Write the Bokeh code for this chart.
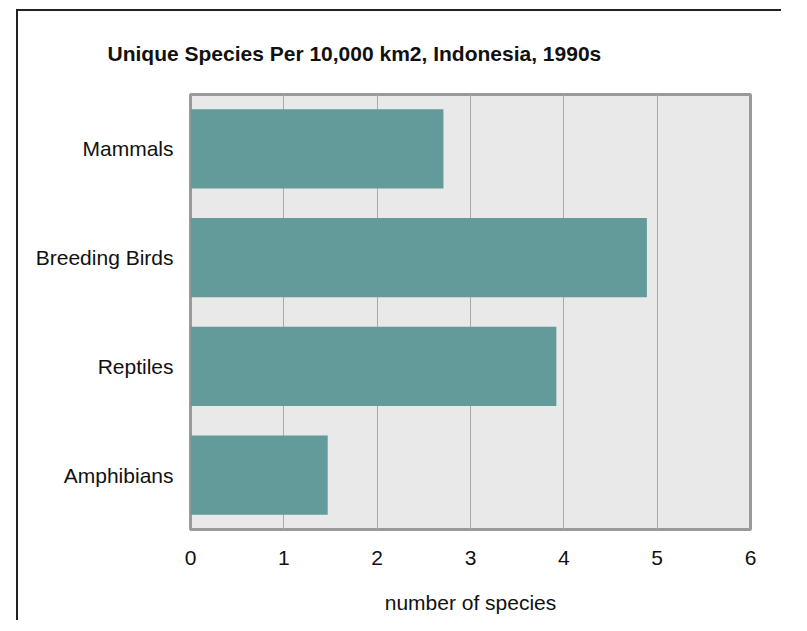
from bokeh.plotting import figure
from bokeh.models import FactorRange, Range1d, FixedTicker
from bokeh.embed import file_html
from bokeh.resources import INLINE

categories = ["Mammals", "Breeding Birds", "Reptiles", "Amphibians"]
values = [2.71, 4.89, 3.92, 1.47]
x_ticks = [0, 1, 2, 3, 4, 5, 6]
title_text = "Unique Species Per 10,000 km2, Indonesia, 1990s"
x_label = "number of species"

FONT = "Liberation Sans"

p = figure(
    width=781, height=612,
    y_range=FactorRange(*categories[::-1], range_padding=0),
    x_range=Range1d(0, 6),
    output_backend="svg", toolbar_location=None,
    min_border_left=180, min_border_top=82, min_border_right=41, min_border_bottom=92,
)
p.margin = (8, 0, 0, 0)
p.styles = {
    "padding-left": "10px",
    "padding-top": "1px",
    "background": ("linear-gradient(#222, #222) 16px 1px / 2px 100% no-repeat, "
                   "linear-gradient(#222, #222) 16px 1px / 100% 2px no-repeat, white"),
}

p.hbar(y=categories, right=values, height=0.73, left=0,
       fill_color="#639b9a", line_color=None)

p.background_fill_color = "#e9e9e9"
p.border_fill_color = None
p.outline_line_color = "#9a9a9a"
p.outline_line_width = 3

p.ygrid.grid_line_color = None
p.xgrid.grid_line_color = "#aaaaaa"
p.xgrid.grid_line_width = 1
p.xgrid.ticker = FixedTicker(ticks=x_ticks)

p.xaxis.ticker = FixedTicker(ticks=x_ticks)
for ax in (p.xaxis, p.yaxis):
    ax.axis_line_color = None
    ax.major_tick_line_color = None
    ax.minor_tick_line_color = None
    ax.major_label_text_font = FONT
    ax.major_label_text_font_size = "21px"
    ax.major_label_text_color = "#111111"

p.xaxis.major_label_standoff = 15
p.yaxis.major_label_standoff = 11
p.xaxis.axis_label = x_label
p.xaxis.axis_label_text_font = FONT
p.xaxis.axis_label_text_font_size = "21px"
p.xaxis.axis_label_text_font_style = "normal"
p.xaxis.axis_label_text_color = "#111111"
p.xaxis.axis_label_standoff = 23

p.title.text = title_text
p.title.text_font = FONT
p.title.text_font_size = "21px"
p.title.text_font_style = "bold"
p.title.text_color = "#111111"
p.title.align = "left"
p.title.offset = -83
p.title.standoff = 60

open("out.html", "w").write(file_html(p, INLINE))
